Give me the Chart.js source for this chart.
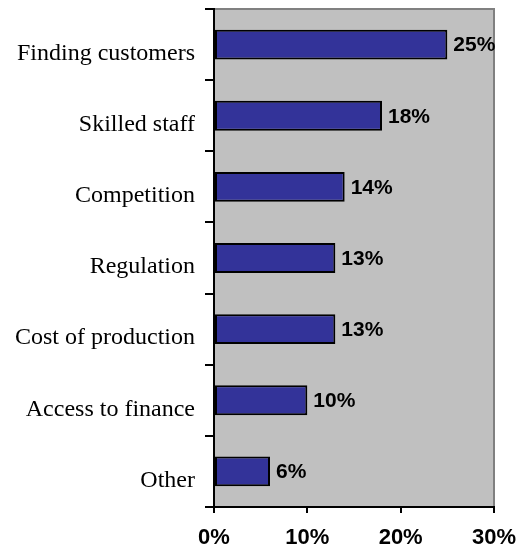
<!DOCTYPE html>
<html>
<head>
<meta charset="utf-8">
<script src="https://cdn.jsdelivr.net/npm/chart.js@4.4.0/dist/chart.umd.min.js"></script>
<style>
    html, body { margin: 0; padding: 0; background: #ffffff; }
    #wrap { width: 517px; height: 549px; }
</style>
</head>
<body>
<div id="wrap"><canvas id="obstacleChart" width="517" height="549"></canvas></div>
<script>
// Main obstacles to growth (share of firms)
const categories = ['Finding customers', 'Skilled staff', 'Competition', 'Regulation', 'Cost of production', 'Access to finance', 'Other'];
const shares = [25, 18, 14, 13, 13, 10, 6];
const xTicks = [0, 10, 20, 30];

// grey plot area with the thin grey frame on top and right
const plotBackground = {
    id: 'plotBackground',
    beforeDraw(chart) {
        const { ctx, chartArea: a } = chart;
        ctx.save();
        ctx.fillStyle = '#c0c0c0';
        ctx.fillRect(a.left, a.top, a.right - a.left, a.bottom - a.top);
        ctx.strokeStyle = '#808080';
        ctx.lineWidth = 2;
        ctx.beginPath();
        ctx.moveTo(a.left, a.top);
        ctx.lineTo(a.right, a.top);
        ctx.lineTo(a.right, a.bottom);
        ctx.stroke();
        ctx.restore();
    }
};

// percentage labels at the end of each bar
const barLabels = {
    id: 'barLabels',
    afterDatasetsDraw(chart) {
        const { ctx } = chart;
        const meta = chart.getDatasetMeta(0);
        ctx.save();
        ctx.font = 'bold 21px "Liberation Sans", Arial, sans-serif';
        ctx.fillStyle = '#000000';
        ctx.textAlign = 'left';
        ctx.textBaseline = 'middle';
        meta.data.forEach((bar, i) => {
            ctx.fillText(shares[i] + '%', bar.x + 6, bar.y + 1);
        });
        ctx.restore();
    }
};

new Chart(document.getElementById('obstacleChart'), {
    type: 'bar',
    data: {
        labels: categories,
        datasets: [{
            data: shares,
            backgroundColor: '#333399',
            borderColor: '#000000',
            borderWidth: 2,
            borderSkipped: false,
            barPercentage: 0.42,
            categoryPercentage: 1
        }]
    },
    options: {
        indexAxis: 'y',
        responsive: false,
        animation: false,
        layout: {
            padding: { top: 9, right: 23, bottom: 0, left: 0 }
        },
        plugins: {
            legend: { display: false },
            tooltip: { enabled: false }
        },
        scales: {
            x: {
                min: 0,
                max: 30,
                afterBuildTicks(axis) {
                    axis.ticks = xTicks.map(v => ({ value: v }));
                },
                afterFit(axis) {
                    axis.height = 42;
                    axis.paddingLeft = 0;
                    axis.paddingRight = 0;
                },
                grid: {
                    drawOnChartArea: false,
                    color: '#000000',
                    lineWidth: 2,
                    tickLength: 6
                },
                border: { color: '#000000', width: 2 },
                ticks: {
                    color: '#000000',
                    padding: 12,
                    maxRotation: 0,
                    font: { family: '"Liberation Sans", Arial, sans-serif', size: 22, weight: 'bold' },
                    callback: function (value) {
                        return value + '%';
                    }
                }
            },
            y: {
                afterFit(axis) {
                    axis.width = 214;
                    axis.paddingTop = 0;
                    axis.paddingBottom = 0;
                },
                grid: {
                    offset: true,
                    drawOnChartArea: false,
                    color: '#000000',
                    lineWidth: 2,
                    tickLength: 9
                },
                border: { color: '#000000', width: 2 },
                ticks: {
                    color: '#000000',
                    padding: 10,
                    labelOffset: 9,
                    font: { family: '"Liberation Serif", "Times New Roman", serif', size: 24 }
                }
            }
        }
    },
    plugins: [plotBackground, barLabels]
});
</script>
</body>
</html>
